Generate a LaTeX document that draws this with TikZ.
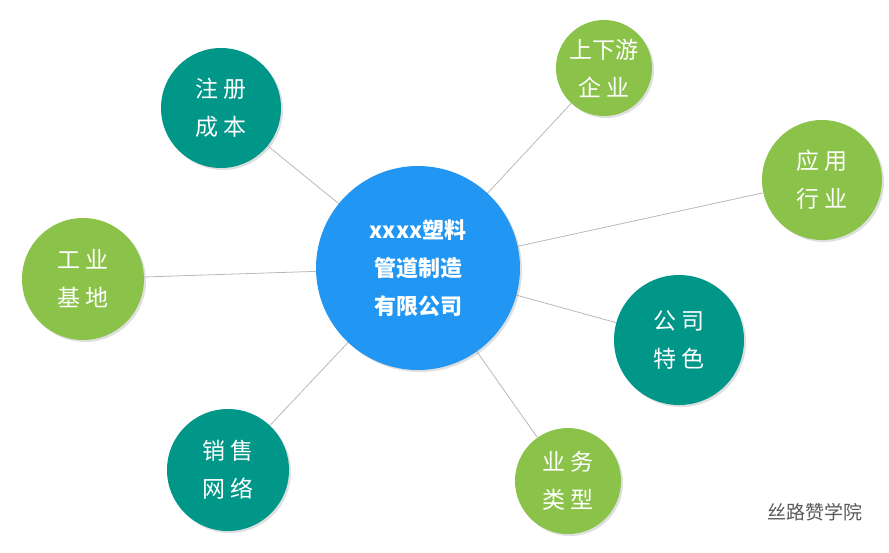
\documentclass[tikz,border=0pt]{standalone}
\usepackage{fontspec}
\setmainfont{Noto Sans CJK SC}
\usetikzlibrary{shadows}
\definecolor{hubblue}{HTML}{2196F3}
\definecolor{teal}{HTML}{009688}
\definecolor{leaf}{HTML}{8BC34A}
\tikzset{
  topic/.style={circle, draw=none, text=white, align=center, font=\fontsize{23}{38}\selectfont,
    inner sep=0pt, drop shadow={opacity=0.25, shadow xshift=2pt, shadow yshift=-2pt}},
  link/.style={draw=gray!55, line width=0.8pt}
}
\begin{document}
\begin{tikzpicture}[x=1pt,y=-1pt]
  \useasboundingbox (0,0) rectangle (889,552);
  \coordinate (c) at (418,268);
  % outer topics
  \node[topic, fill=teal, minimum size=120pt] (zc) at (221,108) {注 册\\成 本};
  \node[topic, fill=leaf, minimum size=96pt] (sx) at (604,68) {上下游\\企 业};
  \node[topic, fill=leaf, minimum size=120pt] (yy) at (822,180) {应 用\\行 业};
  \node[topic, fill=leaf, minimum size=122pt] (gy) at (83,279) {工 业\\基 地};
  \node[topic, fill=teal, minimum size=130pt] (gs) at (679,340) {公 司\\特 色};
  \node[topic, fill=teal, minimum size=122pt] (xs) at (228,470) {销 售\\网 络};
  \node[topic, fill=leaf, minimum size=106pt] (yw) at (568,481) {业 务\\类 型};
  \foreach \t in {zc, sx, yy, gy, gs, xs, yw} {
    \draw[link] (c) -- (\t);
  }
  \node[topic, fill=hubblue, minimum size=204pt, font=\bfseries\fontsize{22}{38}\selectfont] (hub) at (c) {xxxx塑料\\管道制造\\有限公司};
  \node[text=gray!70!black, font=\fontsize{19}{22}\selectfont] (wm) at (815,512) {丝路赞学院};
\end{tikzpicture}
\end{document}
